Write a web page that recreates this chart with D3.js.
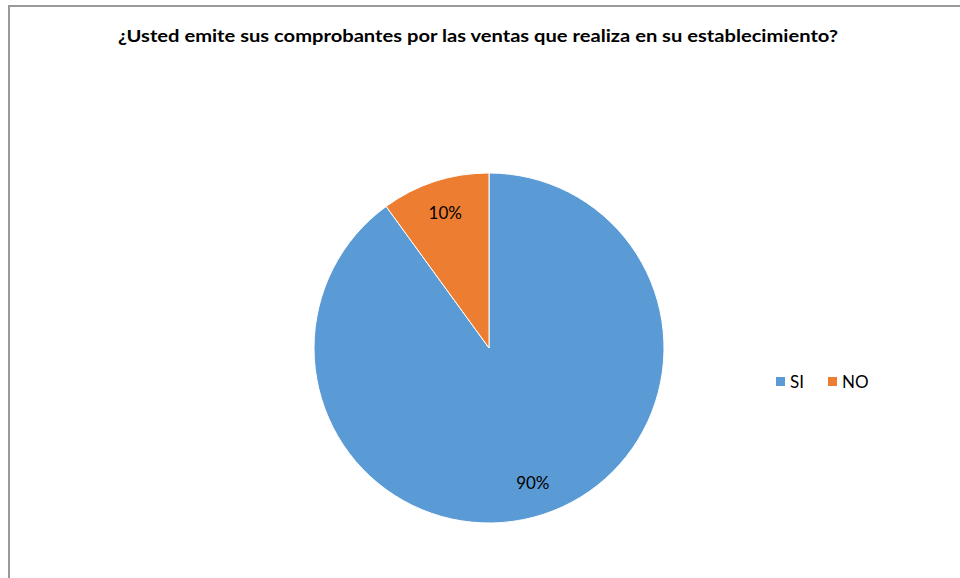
<!DOCTYPE html>
<html>
<head>
<meta charset="utf-8">
<script src="https://cdn.jsdelivr.net/npm/d3@7/dist/d3.min.js"></script>
<style>
  html, body { margin: 0; padding: 0; background: #fff; }
  svg { display: block; }
  text { font-family: Lato, "Open Sans", "Liberation Sans", sans-serif; }
</style>
</head>
<body>
<svg id="chart" width="960" height="578"></svg>
<script>
const title = "¿Usted emite sus comprobantes por las ventas que realiza en su establecimiento?";
const categories = ["SI", "NO"];
const values = [90, 10];
const colors = ["#5B9BD5", "#ED7D31"];

const svg = d3.select("#chart");
const W = 960, H = 578;

// chart frame
svg.append("rect")
  .attr("x", 9).attr("y", 6)
  .attr("width", W + 20).attr("height", H + 20)
  .attr("fill", "#fff")
  .attr("stroke", "#999").attr("stroke-width", 2);

svg.append("text")
  .attr("x", 478).attr("y", 42)
  .attr("text-anchor", "middle")
  .attr("font-weight", "bold")
  .attr("font-size", 17.5)
  .attr("textLength", 720)
  .attr("lengthAdjust", "spacingAndGlyphs")
  .attr("fill", "#000")
  .text(title);

const cx = 489, cy = 348, r = 175;
const data = categories.map((c, i) => ({ cat: c, value: values[i] }));
const total = d3.sum(values);

const pie = d3.pie().value(d => d.value).sort(null);
const arcs = pie(data);
const arc = d3.arc().innerRadius(0).outerRadius(r);
const labelArc = d3.arc().innerRadius(r * 0.81).outerRadius(r * 0.81);
const color = d3.scaleOrdinal().domain(categories).range(colors);

const g = svg.append("g").attr("transform", `translate(${cx},${cy})`);

g.selectAll("path.slice")
  .data(arcs)
  .join("path")
  .attr("class", "slice")
  .attr("d", arc)
  .attr("fill", d => color(d.data.cat))
  .attr("stroke", "#fff")
  .attr("stroke-width", 1);

g.selectAll("text.lbl")
  .data(arcs)
  .join("text")
  .attr("class", "lbl")
  .attr("transform", d => `translate(${labelArc.centroid(d)})`)
  .attr("text-anchor", "middle")
  .attr("dy", "0.35em")
  .attr("font-size", 17)
  .attr("fill", "#000")
  .text(d => Math.round(d.data.value / total * 100) + "%");

// legend
const legendX = [776, 828];
const lg = svg.append("g");
categories.forEach((c, i) => {
  lg.append("rect")
    .attr("x", legendX[i]).attr("y", 377)
    .attr("width", 9).attr("height", 9)
    .attr("fill", color(c));
  lg.append("text")
    .attr("x", legendX[i] + 14).attr("y", 388)
    .attr("font-size", 17)
    .attr("fill", "#000")
    .text(c);
});
</script>
</body>
</html>
